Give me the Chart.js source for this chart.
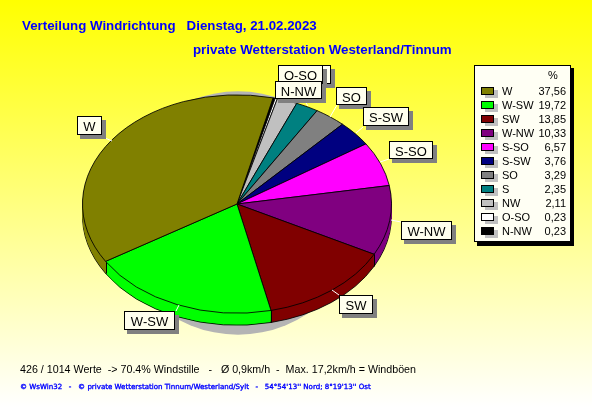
<!DOCTYPE html>
<html><head><meta charset="utf-8">
<script src="https://cdn.jsdelivr.net/npm/chart.js@4"></script>
<style>
html,body{margin:0;padding:0;width:592px;height:407px;overflow:hidden;background:linear-gradient(180deg,#ffff00 0%,#ffffff 100%)}
canvas{display:block}
</style></head><body>
<canvas id="c" width="592" height="407"></canvas>
<script>
const categories = ['W','W-SW','SW','W-NW','S-SO','S-SW','SO','S','NW','O-SO','N-NW'];
const percentValues = [37.56,19.72,13.85,10.33,6.57,3.76,3.29,2.35,2.11,0.23,0.23];
const percentLabels = ['37,56','19,72','13,85','10,33','6,57','3,76','3,29','2,35','2,11','0,23','0,23'];
const sliceColors = ['#808000','#00ff00','#800000','#800080','#ff00ff','#000080','#808080','#008080','#c0c0c0','#ffffff','#000000'];
const titleLine1 = 'Verteilung Windrichtung   Dienstag, 21.02.2023';
const titleLine2 = 'private Wetterstation Westerland/Tinnum';
const infoLine = '426 / 1014 Werte  -> 70.4% Windstille   -   Ø 0,9km/h  -  Max. 17,2km/h = Windböen';
const creditLine = '© WsWin32   -   © private Wetterstation Tinnum/Westerland/Sylt   -   54°54\'13\'\' Nord; 8°19\'13\'\' Ost';

// callout boxes: [text, left, top, right, bottom]
const callouts = [
  ['NW',285,65,331,84],['O-SO',278,65,323,84],['N-NW',275,81,322,99],['SO',336,87,367,105],
  ['S-SW',363,107,409,126],['S-SO',389,141,433,159],['W-NW',401,221,452,240],
  ['SW',339,295,373,314],['W-SW',124,311,175,330],['W',77,116,102,135]
];
const leaders = [[105,138,112,141],[337,105,330,117],[363,127,356,133],[389,159,380,162],
  [401,222,391,220],[339,295,332,290],[179,305,176,311],[306,103,308,106]];

const yScale = 109.5/155, depth = 12;

function withFlatten(ctx, chart, fn){
  const a = chart.chartArea, cx=(a.left+a.right)/2, cy=(a.top+a.bottom)/2;
  ctx.save(); ctx.translate(cx,cy); ctx.scale(1,yScale); ctx.translate(-cx,-cy);
  fn(cx,cy); ctx.restore();
}

const pie3d = {
  id:'pie3d',
  beforeDatasetDraw(chart){
    const ctx=chart.ctx, a=chart.chartArea, els=chart.getDatasetMeta(0).data;
    const cx=(a.left+a.right)/2, cy=(a.top+a.bottom)/2, R=els[0].outerRadius;
    ctx.save(); ctx.fillStyle='#b4b4b4'; ctx.beginPath();
    ctx.ellipse(cx+1,cy+9,R*0.8,R*yScale*1.115,0,0,Math.PI*2); ctx.fill(); ctx.restore();
    for(let d=depth;d>=1;d--){
      ctx.save(); ctx.translate(0,d);
      withFlatten(ctx,chart,()=>{
        els.forEach(el=>{
          const o=el.options;
          if(d!==depth) el.options=Object.assign({},o,{borderWidth:0});
          el.draw(ctx); el.options=o;
        });
      });
      ctx.restore();
    }
    ctx.save(); ctx.strokeStyle='#000'; ctx.lineWidth=1;
    els.forEach(el=>{
      const s=Math.sin(el.startAngle), c=Math.cos(el.startAngle);
      if(s>0){
        const x=Math.round(cx+R*c)+.5, y=cy+R*s*yScale;
        ctx.beginPath(); ctx.moveTo(x,y); ctx.lineTo(x,y+depth); ctx.stroke();
      }
    });
    ctx.restore();
    ctx.save(); ctx.translate(cx,cy); ctx.scale(1,yScale); ctx.translate(-cx,-cy);
  },
  afterDatasetDraw(chart){ chart.ctx.restore(); },
  afterDraw(chart){
    const ctx=chart.ctx;
    ctx.save();
    ctx.textBaseline='alphabetic';
    ctx.fillStyle='#0000ff'; ctx.font='bold 13.3px "Liberation Sans"'; ctx.textAlign='left';
    ctx.fillText(titleLine1,22,30);
    ctx.fillText(titleLine2,193,54);
    ctx.fillStyle='#000'; ctx.font='10.7px "Liberation Sans"';
    ctx.fillText(infoLine,20,373);
    ctx.fillStyle='#0000ff'; ctx.strokeStyle='#0000ff'; ctx.lineWidth=.35; ctx.font='7.05px "DejaVu Sans"';
    ctx.fillText(creditLine,20,389); ctx.strokeText(creditLine,20,389);
    ctx.strokeStyle='#fff'; ctx.lineWidth=1;
    leaders.forEach(l=>{ctx.beginPath();ctx.moveTo(l[0],l[1]);ctx.lineTo(l[2],l[3]);ctx.stroke();});
    callouts.forEach(b=>{
      const w=b[3]-b[1], h=b[4]-b[2];
      ctx.fillStyle='#808080'; ctx.fillRect(b[1]+3,b[2]+4,w+1,h);
      ctx.fillStyle='#ffffee'; ctx.fillRect(b[1],b[2],w,h);
      ctx.strokeStyle='#000'; ctx.strokeRect(b[1]+.5,b[2]+.5,w-1,h-1);
      ctx.fillStyle='#000'; ctx.font='13px "Liberation Sans"'; ctx.textAlign='center';
      ctx.fillText(b[0],(b[1]+b[3])/2,b[2]+14.5);
    });
    ctx.fillStyle='#000'; ctx.fillRect(477,68,97,178);
    ctx.fillStyle='#fffff4'; ctx.fillRect(474,65,97,177);
    ctx.strokeStyle='#000'; ctx.strokeRect(474.5,65.5,96,176);
    ctx.font='11px "Liberation Sans"'; ctx.fillStyle='#000'; ctx.textAlign='center';
    ctx.fillText('%',553,79);
    categories.forEach((n,i)=>{
      const y=Math.round(91+i*14.03);
      ctx.fillStyle='#c0c0c0'; ctx.fillRect(485,y-1,13,8);
      ctx.fillStyle=sliceColors[i]; ctx.fillRect(481,y-4,13,8);
      ctx.strokeStyle='#000'; ctx.strokeRect(481.5,y-3.5,12,7);
      ctx.fillStyle='#000'; ctx.textAlign='left'; ctx.fillText(n,502,y+4);
      ctx.textAlign='right'; ctx.fillText(percentLabels[i],566,y+4);
    });
    ctx.restore();
  }
};

new Chart(document.getElementById('c'),{
  type:'pie',
  data:{
    labels:[...categories].reverse(),
    datasets:[{
      data:[...percentValues].reverse(),
      backgroundColor:[...sliceColors].reverse(),
      borderColor:'#000',borderWidth:1,hoverOffset:0,clip:false
    }]
  },
  options:{
    responsive:false,animation:false,rotation:13.5,
    layout:{padding:{left:82,right:200,top:49,bottom:48}},
    events:[],
    plugins:{legend:{display:false},tooltip:{enabled:false},title:{display:false}}
  },
  plugins:[pie3d]
});
</script>
</body></html>
